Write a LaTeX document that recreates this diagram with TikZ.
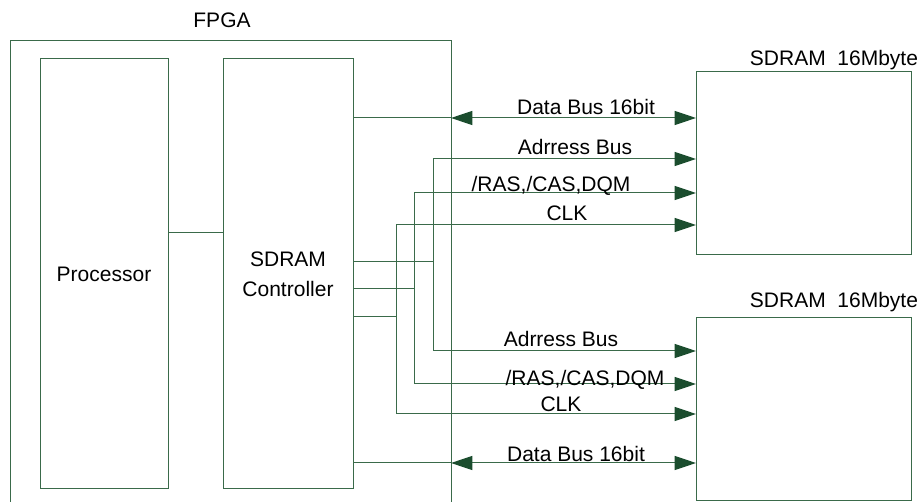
\documentclass[tikz,border=0pt]{standalone}
\usepackage{fontspec}
\setmainfont{Liberation Sans}
\usetikzlibrary{arrows.meta}
\definecolor{wire}{HTML}{3A6A4A}
\definecolor{tipfill}{HTML}{1B4D2E}
\begin{document}
\begin{tikzpicture}[x=0.75pt,y=-0.75pt,
  box/.style={draw=wire, line width=0.75pt, rectangle, inner sep=0pt, outer sep=0pt,
              font=\fontsize{15.75pt}{22.5pt}\selectfont, align=center},
  lbl/.style={font=\fontsize{15.75pt}{22.5pt}\selectfont, inner sep=0pt, anchor=base},
  wireline/.style={draw=wire, line width=0.75pt},
  >={Triangle[length=16pt,width=10.5pt,color=tipfill]}]
\clip (0,0) rectangle (922,502);

% blocks
\node[box, minimum width=330.75pt, minimum height=389.25pt] (fpga) at (230.5,300.5) {};
\node[box, minimum width=96pt, minimum height=322.5pt] (proc) at (104,274) {Processor};
\node[box, minimum width=97.5pt, minimum height=322.5pt] (ctrl) at (288,274) {SDRAM\\Controller};
\node[box, minimum width=161.25pt, minimum height=137.25pt] (ram1) at (803.5,163.5) {};
\node[box, minimum width=161.25pt, minimum height=137.25pt] (ram2) at (803.5,409.5) {};

% titles
\node[lbl] (tfpga) at (222,28) {FPGA};
\node[lbl] (tram1) at (834,66) {SDRAM\ \ 16Mbyte};
\node[lbl] (tram2) at (834,308) {SDRAM\ \ 16Mbyte};

% row heights and bus columns
\coordinate (yPC) at (0,233);
\coordinate (yD1) at (0,118);
\coordinate (yA1) at (0,159);
\coordinate (yR1) at (0,193);
\coordinate (yC1) at (0,225);
\coordinate (yA)  at (0,262);
\coordinate (yR)  at (0,289);
\coordinate (yC)  at (0,317);
\coordinate (yA2) at (0,351);
\coordinate (yR2) at (0,384);
\coordinate (yC2) at (0,414);
\coordinate (yD2) at (0,463);
\coordinate (vA) at (433,0);
\coordinate (vR) at (414,0);
\coordinate (vC) at (396,0);

% processor to controller
\draw[wireline] (proc.east |- yPC) -- (ctrl.west |- yPC);

% data buses
\draw[wireline] (ctrl.east |- yD1) -- (fpga.east |- yD1);
\draw[wireline,<->] (fpga.east |- yD1) -- (ram1.west |- yD1);
\draw[wireline] (ctrl.east |- yD2) -- (fpga.east |- yD2);
\draw[wireline,<->] (fpga.east |- yD2) -- (ram2.west |- yD2);

% address bus
\draw[wireline] (ctrl.east |- yA) -- (vA |- yA);
\draw[wireline,->] (vA |- yA) -- (vA |- yA1) -- (ram1.west |- yA1);
\draw[wireline,->] (vA |- yA) -- (vA |- yA2) -- (ram2.west |- yA2);

% /RAS,/CAS,DQM
\draw[wireline] (ctrl.east |- yR) -- (vR |- yR);
\draw[wireline,->] (vR |- yR) -- (vR |- yR1) -- (ram1.west |- yR1);
\draw[wireline,->] (vR |- yR) -- (vR |- yR2) -- (ram2.west |- yR2);

% clock
\draw[wireline] (ctrl.east |- yC) -- (vC |- yC);
\draw[wireline,->] (vC |- yC) -- (vC |- yC1) -- (ram1.west |- yC1);
\draw[wireline,->] (vC |- yC) -- (vC |- yC2) -- (ram2.west |- yC2);

% signal labels
\node[lbl] (ld1) at (586,115) {Data Bus 16bit};
\node[lbl] (la1) at (575,155) {Adrress Bus};
\node[lbl] (lr1) at (551,192) {/RAS,/CAS,DQM};
\node[lbl] (lc1) at (567,221) {CLK};
\node[lbl] (la2) at (561,347) {Adrress Bus};
\node[lbl] (lr2) at (585,386) {/RAS,/CAS,DQM};
\node[lbl] (lc2) at (561,412) {CLK};
\node[lbl] (ld2) at (576,462) {Data Bus 16bit};
\end{tikzpicture}
\end{document}
